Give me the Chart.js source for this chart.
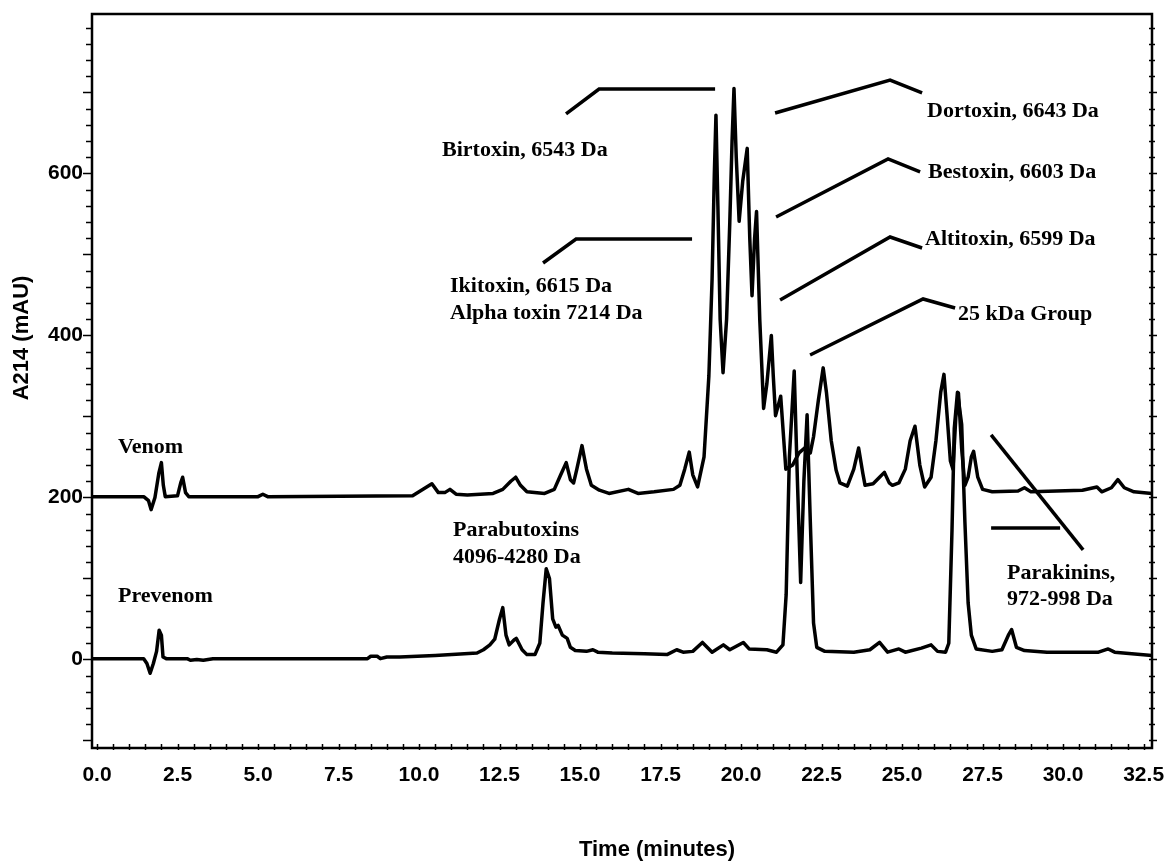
<!DOCTYPE html>
<html>
<head>
<meta charset="utf-8">
<script src="https://cdn.jsdelivr.net/npm/chart.js@4.4.1/dist/chart.umd.min.js"></script>
<style>
html,body{margin:0;padding:0;background:#fff;}
#wrap{width:1168px;height:861px;}
</style>
</head>
<body>
<div id="wrap"><canvas id="c" width="1168" height="861"></canvas></div>
<script>
// ---- data (time in minutes, A214 in mAU) ----
const venomTime = [-0.155,1.45,1.6,1.68,1.8,1.92,2.0,2.06,2.12,2.5,2.6,2.66,2.75,2.85,5.0,5.15,5.3,9.8,10.2,10.4,10.6,10.8,10.96,11.15,11.5,12.3,12.6,12.85,13.0,13.15,13.35,13.9,14.2,14.4,14.57,14.7,14.8,14.9,15.06,15.2,15.35,15.6,15.9,16.5,16.8,17.3,17.9,18.1,18.25,18.39,18.5,18.65,18.85,19.0,19.1,19.17,19.22,19.28,19.35,19.44,19.55,19.65,19.72,19.78,19.85,19.94,20.05,20.19,20.27,20.34,20.42,20.48,20.58,20.70,20.8,20.94,21.0,21.07,21.23,21.39,21.6,21.8,22.0,22.15,22.25,22.4,22.55,22.65,22.8,22.95,23.07,23.3,23.5,23.65,23.78,23.85,24.1,24.3,24.45,24.6,24.7,24.9,25.1,25.25,25.4,25.55,25.7,25.9,26.05,26.2,26.3,26.4,26.5,26.58,26.67,26.75,26.85,26.95,27.05,27.15,27.22,27.35,27.5,27.8,28.6,28.8,29.0,30.6,31.05,31.2,31.5,31.7,31.9,32.2,32.76];
const venomA214 = [201,201,196,185,200,230,243,215,201,202,218,225,206,201,201,204,201,202,212,217,206,206,210,204,203,205,210,220,225,215,207,205,210,228,243,222,218,235,264,235,215,209,205,210,205,207,210,215,235,256,228,213,250,350,470,600,672,560,420,354,420,540,640,705,620,541,590,631,520,449,520,553,420,310,340,400,350,301,325,235,240,255,262,255,275,320,360,330,270,234,218,214,235,261,230,215,217,225,231,218,215,218,235,270,288,240,213,225,270,330,352,300,245,235,300,329,260,215,225,250,257,225,210,207,208,212,207,209,213,207,212,222,212,207,205];

const prevenomTime = [-0.155,1.45,1.55,1.65,1.75,1.85,1.93,2.0,2.05,2.15,2.8,2.9,3.1,3.3,3.6,8.4,8.5,8.7,8.8,9.0,9.4,10.5,11.8,12.0,12.2,12.35,12.5,12.6,12.7,12.8,12.95,13.02,13.2,13.35,13.6,13.75,13.85,13.95,14.05,14.15,14.25,14.32,14.45,14.6,14.7,14.85,15.2,15.4,15.55,16.0,17.0,17.7,18.0,18.2,18.5,18.8,19.1,19.45,19.65,20.07,20.25,20.8,21.1,21.3,21.4,21.5,21.65,21.75,21.85,21.95,22.05,22.15,22.25,22.35,22.6,23.5,24.0,24.3,24.55,24.9,25.1,25.6,25.9,26.1,26.35,26.45,26.55,26.62,26.72,26.85,26.95,27.05,27.15,27.3,27.8,28.1,28.3,28.4,28.55,28.8,29.5,30.5,31.1,31.4,31.6,32.76];
const prevenomA214 = [1,1,-5,-17,-5,10,36,30,3,1,1,-1,0,-1,1,1,4,4,1,3,3,5,8,12,18,25,50,64,30,18,24,26,12,6,6,20,70,112,100,50,40,42,30,26,15,11,10,12,9,8,7,6,12,9,10,21,9,18,12,21,13,12,9,18,80,250,356,220,95,220,302,170,45,15,10,9,12,21,9,13,9,14,18,10,9,20,160,285,330,290,170,70,30,13,10,12,30,37,15,11,9,9,9,13,9,5];

const xTickLabels = [0,2.5,5,7.5,10,12.5,15,17.5,20,22.5,25,27.5,30,32.5];
const yTickLabels = [0,200,400,600];

// annotation texts, anchored in data units (minutes, mAU) at left edge / vertical middle
const noteTexts = ["Venom","Prevenom","Birtoxin, 6543 Da","Ikitoxin, 6615 Da","Alpha toxin 7214 Da","Dortoxin, 6643 Da","Bestoxin, 6603 Da","Altitoxin, 6599 Da","25 kDa Group","Parabutoxins","4096-4280 Da","Parakinins,","972-998 Da"];
const noteTime = [0.652,0.652,10.714,10.963,10.963,25.776,25.807,25.714,26.739,11.056,11.056,28.26,28.26];
const noteA214 = [262.3,78.4,629.0,461.1,427.8,677.2,601.9,519.1,426.5,159.9,126.5,106.8,74.7];

// leader lines: polyline vertices in data units
const leaderTime = [[14.565,15.590,19.193],[13.851,14.876,18.478],[21.056,24.627,25.621],[21.087,24.565,25.559],[21.211,24.627,25.621],[22.143,25.652,26.646],[27.764,30.621],[27.764,29.907]];
const leaderA214 = [[673.5,704.3,704.3],[489.5,519.1,519.1],[674.7,715.4,699.4],[546.3,617.9,601.9],[443.8,521.6,508.0],[375.9,445.1,434.0],[277.2,135.2],[162.3,162.3]];

const SANS = '"Liberation Sans", Arial, sans-serif';
const SERIF = '"Liberation Serif", "Times New Roman", serif';

function noScalePadding(s) {
  s.paddingLeft = 0; s.paddingRight = 0; s.paddingTop = 0; s.paddingBottom = 0;
}

const decor = {
  id: 'decor',
  afterDatasetsDraw(chart) {
    const {ctx, chartArea: a, scales: {x, y}} = chart;
    ctx.save();
    ctx.strokeStyle = '#000';
    ctx.fillStyle = '#000';
    // frame
    ctx.lineWidth = 2.5;
    ctx.beginPath();
    ctx.moveTo(a.left, a.top); ctx.lineTo(a.right, a.top);
    ctx.lineTo(a.right, a.bottom); ctx.lineTo(a.left, a.bottom); ctx.closePath();
    ctx.stroke();
    // y ticks (left outward, right crossing)
    ctx.lineWidth = 1.5;
    for (let v = -100; v <= 780; v += 20) {
      const py = Math.round(y.getPixelForValue(v)) + 0.5;
      const major = v % 100 === 0;
      ctx.beginPath();
      ctx.moveTo(a.left - (major ? 9 : 6), py); ctx.lineTo(a.left, py);
      ctx.moveTo(a.right - 3, py); ctx.lineTo(a.right + (major ? 5 : 3), py);
      ctx.stroke();
    }
    // x ticks
    for (let t = 0; t <= 32.5; t += 0.5) {
      const px = Math.round(x.getPixelForValue(t)) + 0.5;
      ctx.beginPath();
      ctx.moveTo(px, a.bottom - 4); ctx.lineTo(px, a.bottom + 2);
      ctx.stroke();
    }
    // leader lines
    ctx.lineWidth = 3.5;
    ctx.lineJoin = 'miter';
    leaderTime.forEach((ts, i) => {
      ctx.beginPath();
      ts.forEach((t, j) => {
        const px = x.getPixelForValue(t), py = y.getPixelForValue(leaderA214[i][j]);
        if (j === 0) ctx.moveTo(px, py); else ctx.lineTo(px, py);
      });
      ctx.stroke();
    });
    // annotation texts
    ctx.font = 'bold 22px ' + SERIF;
    ctx.textAlign = 'left';
    ctx.textBaseline = 'middle';
    noteTexts.forEach((s, i) => {
      ctx.fillText(s, x.getPixelForValue(noteTime[i]), y.getPixelForValue(noteA214[i]));
    });
    // axis titles
    ctx.font = 'bold 22px ' + SANS;
    ctx.textAlign = 'center';
    ctx.fillText('Time (minutes)', 657, 850);
    ctx.translate(22, 338);
    ctx.rotate(-Math.PI / 2);
    ctx.fillText('A214 (mAU)', 0, 0);
    ctx.restore();
  }
};

new Chart(document.getElementById('c'), {
  type: 'line',
  data: {
    datasets: [
      { label: 'Venom', data: venomTime.map((t, i) => ({x: t, y: venomA214[i]})),
        borderColor: '#000', borderWidth: 3.5, pointRadius: 0, tension: 0, fill: false, borderJoinStyle: 'round' },
      { label: 'Prevenom', data: prevenomTime.map((t, i) => ({x: t, y: prevenomA214[i]})),
        borderColor: '#000', borderWidth: 3.5, pointRadius: 0, tension: 0, fill: false, borderJoinStyle: 'round' }
    ]
  },
  options: {
    responsive: false,
    animation: false,
    devicePixelRatio: 1,
    layout: { padding: { top: 14, right: 16, left: 0, bottom: 0 } },
    plugins: { legend: { display: false }, tooltip: { enabled: false } },
    scales: {
      x: {
        type: 'linear', min: -0.155, max: 32.76,
        afterFit(s) { s.height = 113; noScalePadding(s); },
        afterBuildTicks(s) { s.ticks = xTickLabels.map(v => ({value: v})); },
        grid: { display: false, drawTicks: false },
        border: { display: false },
        ticks: { padding: 15, color: '#000', autoSkip: false, maxRotation: 0,
          font: { family: SANS, size: 21, weight: 'bold' },
          callback: v => Number(v).toFixed(1) }
      },
      y: {
        type: 'linear', min: -109.3, max: 796.9,
        afterFit(s) { s.width = 92; noScalePadding(s); },
        afterBuildTicks(s) { s.ticks = yTickLabels.map(v => ({value: v})); },
        grid: { display: false, drawTicks: false },
        border: { display: false },
        ticks: { padding: 9, color: '#000',
          font: { family: SANS, size: 21, weight: 'bold' },
          callback: v => String(v) }
      }
    }
  },
  plugins: [decor]
});
</script>
</body>
</html>
